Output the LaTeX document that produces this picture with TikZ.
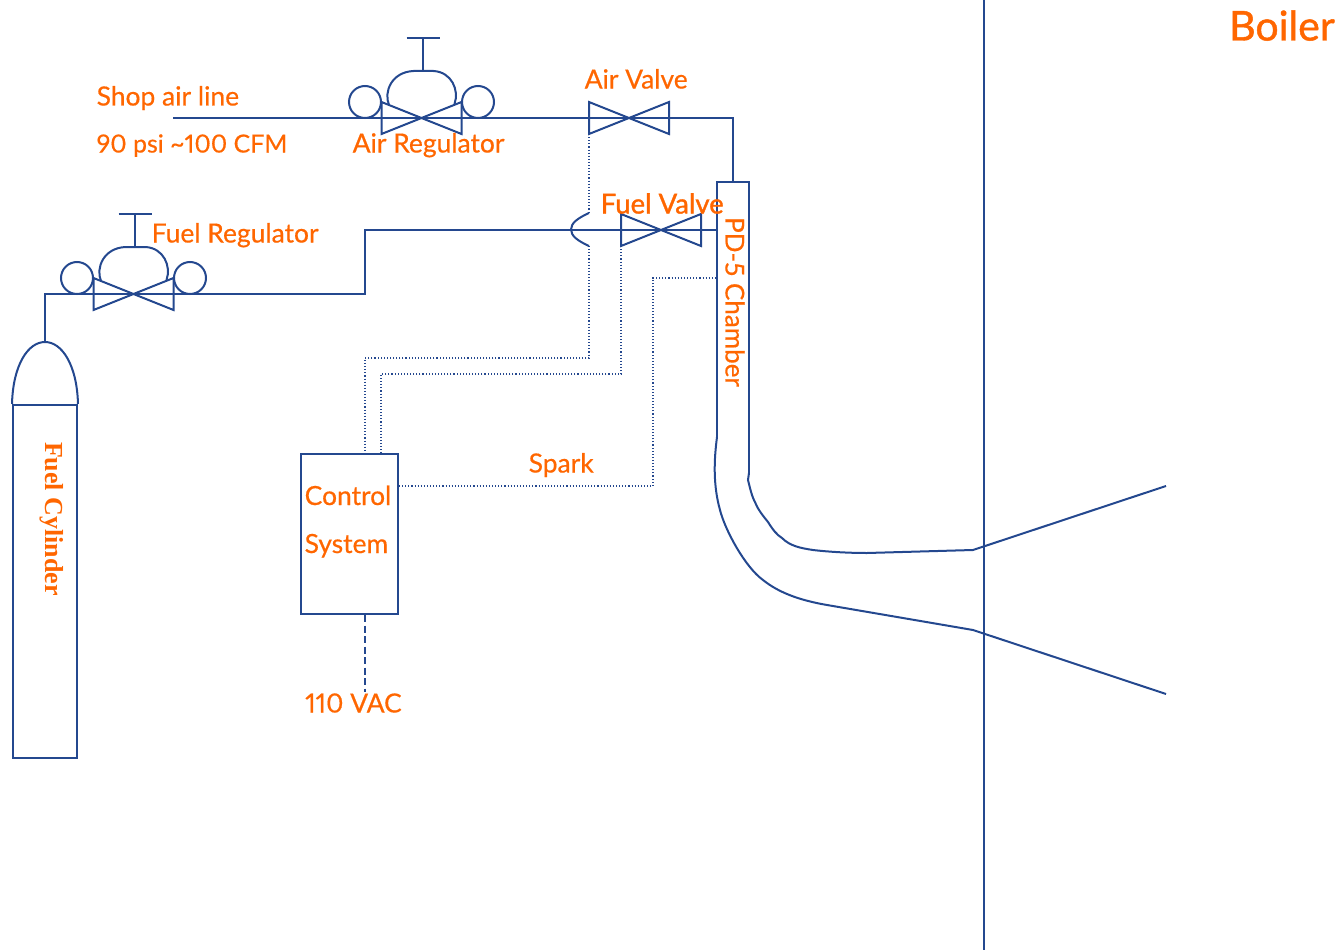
\documentclass[tikz,border=0pt]{standalone}
\usepackage{fontspec}
\setmainfont{Lato}
\newfontfamily\lblfont[FakeBold=0.5,Numbers=Proportional]{Lato}
\newfontfamily\boldlbl[FakeBold=1.2]{Lato}
\newfontfamily\serifcyl{Liberation Serif}
\usetikzlibrary{positioning}
\definecolor{pipeblue}{HTML}{24488F}
\definecolor{lblorange}{HTML}{FF6600}
\tikzset{
  pipe/.style={draw=pipeblue, line width=2pt},
  ctlline/.style={draw=pipeblue, line width=1.1pt, dotted},
  lbl/.style={text=lblorange, font=\fontsize{26.4}{28}\lblfont, inner sep=0pt, anchor=base west},
  valve/.pic={
    \draw[pipe] (-40,-16) -- (40,16) -- (40,-16) -- (-40,16) -- cycle;
  },
  regulator/.pic={
    \draw[pipe] (-40,-16) -- (40,16) -- (40,-16) -- (-40,16) -- cycle;
    \draw[pipe] (-56.5,-16) circle (16);
    \draw[pipe] (56.5,-16) circle (16);
    \draw[pipe] (-32.5,-13) .. controls (-38,-26) and (-30,-46) .. (-8,-47) -- (12,-47) .. controls (30,-46) and (38,-28) .. (33,-14);
    \draw[pipe] (1.5,-47) -- (1.5,-80);
    \draw[pipe] (-15,-80) -- (18,-80);
  }
}
\begin{document}
\begin{tikzpicture}[x=1pt, y=-1pt]
  \useasboundingbox (0,0) rectangle (1342,950);
  % burner
  \coordinate (chamberNW) at (717,182);
  \coordinate (chamberNE) at (749,182);
  \coordinate (chambertop) at (733,182);
  \coordinate (chamberair) at (733,118);
  \draw[pipe] (749,473) -- (chamberNE) -- (chamberNW) -- (717,437);
  \draw[pipe] (749,473) -- (748,480) .. controls (750,488) and (752,497) .. (755,502) .. controls (758,510) and (764,517) .. (768,522) .. controls (773,530) and (777,535) .. (782,538) .. controls (790,546) and (800,548) .. (813,550) .. controls (830,552) and (850,553) .. (867,553) -- (973,550) -- (1166,486);
  \draw[pipe] (717,437) .. controls (714,460) and (713,485) .. (720,510) .. controls (725,530) and (745,567) .. (763,580) .. controls (778,592) and (798,600) .. (827,605) -- (973,630) -- (1166,694);
  % wall
  \coordinate (walltop) at (984,0);
  \coordinate (wallend) at (984,950);
  \draw[pipe] (walltop) -- (wallend);
  % cylinder
  \node[draw=pipeblue, line width=2pt, minimum width=64pt, minimum height=353pt, inner sep=0pt] (cylinder) at (45,581.5) {};
  \draw[pipe] (cylinder.north west) .. controls (13,365) and (28,342) .. (45,342) .. controls (62,342) and (77,365) .. (cylinder.north east);
  \coordinate (cyltop) at (45,342);
  % control box
  \node[draw=pipeblue, line width=2pt, minimum width=97pt, minimum height=160pt, inner sep=0pt] (control) at (349.5,534) {};
  \coordinate (vac) at (365,692);
  \draw[pipe, dash pattern=on 7pt off 3.5pt] (control.south -| vac) -- (vac);
  % regulators and valves
  \pic at (421.5,118) {regulator};
  \pic at (133.5,294) {regulator};
  \pic at (629,118) {valve};
  \pic at (661,230) {valve};
  % air and fuel lines
  \coordinate (airstart) at (173,118);
  \coordinate (fuelA) at (45,294);
  \coordinate (fuelB) at (365,294);
  \coordinate (fuelC) at (365,230);
  \draw[pipe] (airstart) -- (chamberair) -- (chambertop);
  \draw[pipe] (cyltop) -- (fuelA) -- (fuelB) -- (fuelC) -- (717,230);
  % control wiring
  \coordinate (hopA) at (589,213);
  \coordinate (hopB) at (589,246);
  \draw[ctlline] (589,134) -- (hopA);
  \draw[pipe] (hopA) .. controls (578,218) and (571,223) .. (571,229.5) .. controls (571,236) and (578,241) .. (hopB);
  \draw[ctlline] (hopB) -- (589,358) -- (365,358) -- (control.north -| fuelC);
  \draw[ctlline] (621,246) -- (621,374) -- (381,374) -- (381,454);
  \draw[ctlline] (control.east |- 0,486) -- (653,486) -- (653,278) -- (717,278);
  % labels
  \node[lbl] (shoplbl) at (96.5,105.5) {Shop air line};
  \node[lbl, font=\fontsize{24.9}{28}\lblfont] (psilbl) at (96.5,152.5) {90 psi \textasciitilde100 CFM};
  \node[lbl] (airreglbl) at (352.5,152.5) {Air Regulator};
  \node[lbl] (airvalvelbl) at (584.5,88.5) {Air Valve};
  \node[lbl, font=\fontsize{27.5}{28}\boldlbl] (fuelvalvelbl) at (600.5,213.5) {Fuel Valve};
  \node[lbl] (fuelreglbl) at (151.5,242.5) {Fuel Regulator};
  \node[lbl] (sparklbl) at (528.5,472.5) {Spark};
  \node[lbl] (controllbl) at (304.5,505) {Control};
  \node[lbl] (systemlbl) at (304.5,553) {System};
  \node[lbl] (vaclbl) at (305,712.5) {110 VAC};
  \node[lbl, font=\fontsize{41}{44}\boldlbl] (boilerlbl) at (1229,40.5) {Boiler};
  \node[lbl, anchor=center, rotate=-90, font=\fontsize{26}{28}\lblfont] (chamberlbl) at (735,302) {PD-5 Chamber};
  \node[lbl, anchor=center, rotate=-90, font=\fontsize{26}{28}\serifcyl\bfseries] (cyllbl) at (52,519) {Fuel Cylinder};
\end{tikzpicture}
\end{document}
